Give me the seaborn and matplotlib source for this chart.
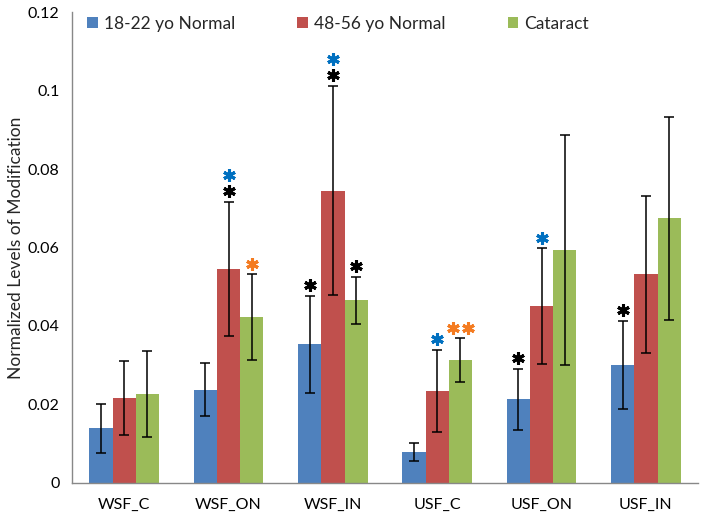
import matplotlib
matplotlib.use("Agg")
import matplotlib.pyplot as plt
import seaborn as sns
import pandas as pd
import numpy as np
from matplotlib.patches import Patch

categories = ["WSF_C", "WSF_ON", "WSF_IN", "USF_C", "USF_ON", "USF_IN"]
series = ["18-22 yo Normal", "48-56 yo Normal", "Cataract"]
young = [0.0139, 0.0238, 0.0353, 0.0079, 0.0213, 0.0301]
middle = [0.0216, 0.0546, 0.0745, 0.0235, 0.0451, 0.0532]
cataract = [0.0226, 0.0423, 0.0466, 0.0313, 0.0593, 0.0674]
young_sd = [0.0063, 0.0067, 0.0124, 0.00225, 0.0078, 0.0112]
middle_sd = [0.00945, 0.0171, 0.0267, 0.0105, 0.0147, 0.0200]
cataract_sd = [0.0110, 0.0109, 0.0060, 0.0056, 0.0293, 0.0259]
yticks = [0, 0.02, 0.04, 0.06, 0.08, 0.1, 0.12]
ytick_labels = ["0", "0.02", "0.04", "0.06", "0.08", "0.1", "0.12"]

# significance marks: (category index, series index, list of rows; each row is list of colours)
BLK, BLU, ORG = "#000000", "#0070C0", "#F47B20"
marks = [
    (1, 1, [[BLK], [BLU]]),
    (1, 2, [[ORG]]),
    (2, 0, [[BLK]]),
    (2, 1, [[BLK], [BLU]]),
    (2, 2, [[BLK]]),
    (3, 1, [[BLU]]),
    (3, 2, [[ORG, ORG]]),
    (4, 0, [[BLK]]),
    (4, 1, [[BLU]]),
    (5, 0, [[BLK]]),
]

colors = ["#4F81BD", "#C0504D", "#9BBB59"]

sns.set_theme(style="white")
plt.rcParams["font.family"] = ["Lato", "DejaVu Sans"]

df = pd.DataFrame({
    "category": categories * 3,
    "group": [series[0]] * 6 + [series[1]] * 6 + [series[2]] * 6,
    "value": young + middle + cataract,
})
sds = [young_sd, middle_sd, cataract_sd]
means = [young, middle, cataract]

fig = plt.figure(figsize=(7.06, 5.18), dpi=100)
ax = fig.add_axes([0.102, 0.0676, 0.8867, 0.9092])

sns.barplot(data=df, x="category", y="value", hue="group", order=categories,
            hue_order=series, palette=colors, width=0.67, gap=0, saturation=1,
            errorbar=None, ax=ax, legend=False, edgecolor="none", linewidth=0)

bar_w = 0.67 / 3
xs = {}
for si in range(3):
    for ci in range(6):
        xs[(ci, si)] = ci - 0.67 / 2 + bar_w * (si + 0.5)

for si in range(3):
    x = [xs[(ci, si)] for ci in range(6)]
    ax.errorbar(x, means[si], yerr=sds[si], fmt="none", ecolor="black",
                elinewidth=1.1, capsize=3.5, capthick=1.1, zorder=3)

first_off = 0.0027
step = 0.0042
for ci, si, rows in marks:
    top = means[si][ci] + sds[si][ci]
    for k, row in enumerate(rows):
        y = top + first_off + k * step
        n = len(row)
        for j, c in enumerate(row):
            dx = (j - (n - 1) / 2) * 0.14
            ax.plot([xs[(ci, si)] + dx], [y], linestyle="none", marker=(6, 2, 0),
                    markersize=9, markeredgewidth=2.2, color=c, zorder=4)

ax.set_xlim(-0.5, 5.5)
ax.set_ylim(0, 0.12)
ax.set_yticks(yticks)
ax.set_yticklabels(ytick_labels, fontsize=11.5)
ax.set_xticks(range(6))
ax.set_xticklabels(categories, fontsize=11.5)
ax.set_xticks(np.arange(-0.5, 6.0, 1.0), minor=True)
ax.tick_params(axis="x", which="major", length=0, pad=11, colors="black")
ax.tick_params(axis="x", which="minor", length=6, width=1, color="#888888", direction="out")
ax.tick_params(axis="y", which="major", length=5, width=1, color="#888888", direction="out", pad=4, labelcolor="black")
ax.set_xlabel("")
ax.set_ylabel("Normalized Levels of Modification", fontsize=12.5)
ax.yaxis.set_label_coords(-0.076, 0.5)
for s in ["top", "right"]:
    ax.spines[s].set_visible(False)
for s in ["left", "bottom"]:
    ax.spines[s].set_color("#888888")
    ax.spines[s].set_linewidth(1)

handles = [Patch(facecolor=c, edgecolor="none") for c in colors]
ax.legend(handles, series, ncol=3, loc="upper center", bbox_to_anchor=(0.425, 1.025),
          frameon=False, fontsize=12.5, handlelength=0.6, handleheight=0.6,
          handletextpad=0.35, columnspacing=3.6)

fig.savefig("out.png", dpi=100)
